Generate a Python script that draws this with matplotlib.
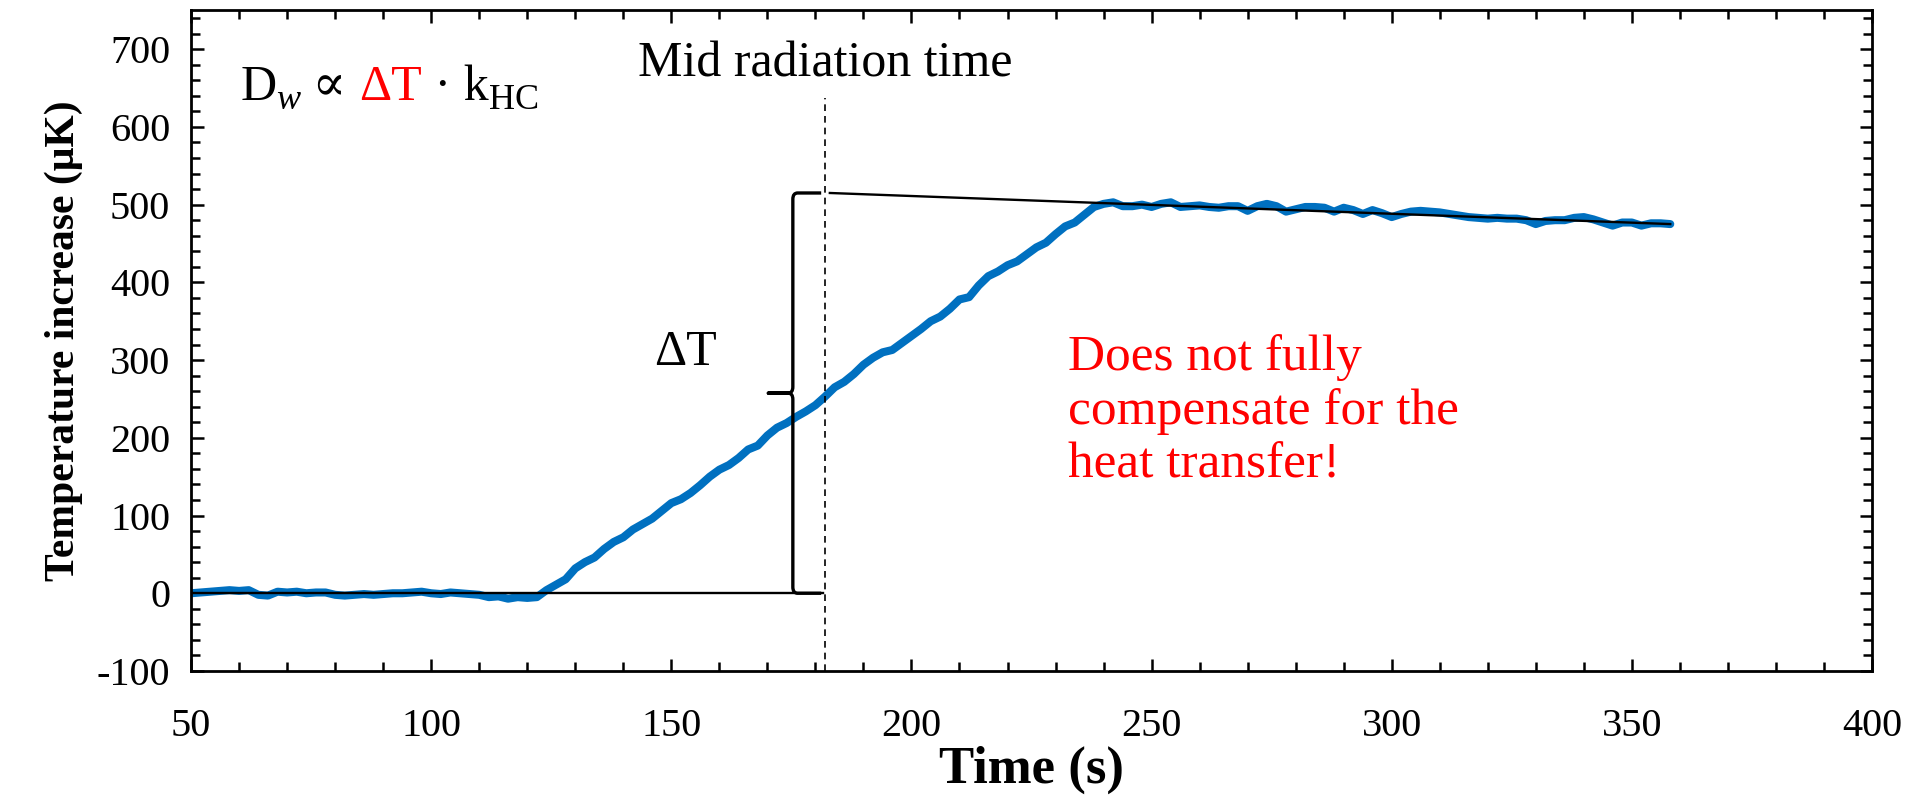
import matplotlib
matplotlib.use("Agg")
import matplotlib.pyplot as plt
import matplotlib.transforms as mtransforms
from matplotlib.path import Path
from matplotlib.patches import PathPatch
from matplotlib.ticker import MultipleLocator
import numpy as np

plt.rcParams["font.family"] = ["Liberation Serif", "DejaVu Serif"]
plt.rcParams["axes.unicode_minus"] = False

# Measured temperature rise, sampled every 2 s
time_s = np.arange(50, 360, 2)
temp_uK = [
    0, 1, 2, 3, 4, 3, 4, -2, -3, 2, 1, 2, 0, 1, 1, -2, -3, -2, -1, -2,
    -1, 0, 0, 1, 2, 0, -1, 1, 0, -1, -2, -5, -4, -7, -5, -6, -5,
    4, 11, 18, 32, 40, 46, 57, 66, 72, 82, 89, 96, 106, 116, 121, 129,
    139, 150, 159, 165, 174, 185, 190, 203, 213, 219, 227, 234, 242, 253,
    265, 272, 282, 294, 303, 310, 313, 322, 331, 340, 350, 356, 366, 378,
    381, 396, 408, 414, 422, 427, 436, 445, 451, 462, 472, 477, 487, 497,
    501, 503, 498, 498, 500, 497, 501, 503, 497, 498, 499, 497, 496, 498,
    498, 492, 498, 501, 498, 491, 494, 497, 497, 496, 491, 496, 493, 488,
    493, 489, 484, 488, 491, 492, 491, 490, 488, 486, 484, 483, 482, 483,
    482, 482, 480, 475, 479, 480, 480, 483, 484, 481, 477, 473, 477, 477,
    473, 476, 476, 475,
]

# Linear fit of the cooling part, extrapolated back to mid radiation time
fit_t = [183, 358]
fit_T = [515, 475]

mid_time = 182
baseline_t = [50, 181.6]
baseline_T = [0, 0]
delta_top = 515

blue = "#0070C0"

fig = plt.figure(figsize=(19.09, 7.95), dpi=100)
ax = fig.add_axes([0.1001, 0.156, 0.8805, 0.831])

ax.plot(time_s, temp_uK, color=blue, lw=5.8, solid_capstyle="round",
        solid_joinstyle="round", zorder=2)
ax.plot(baseline_t, baseline_T, color="black", lw=1.7, zorder=3)
ax.plot(fit_t, fit_T, color="black", lw=1.7, zorder=3)
ax.plot([mid_time, mid_time], [-100, 637], color="black", lw=1.2,
        dashes=(4, 3), zorder=4)

# Curly brace marking the temperature step
xs, xt, xe = 175.3, 170.2, 181.2
ymid = delta_top / 2
ry, rx = 8, 1.0
verts = [
    (xe, delta_top), (xs + rx, delta_top),
    (xs, delta_top), (xs, delta_top - ry),
    (xs, ymid + ry),
    (xs, ymid), (xs - rx, ymid),
    (xt, ymid),
    (xs - rx, ymid),
    (xs, ymid), (xs, ymid - ry),
    (xs, ry),
    (xs, 0), (xs + rx, 0),
    (xe, 0),
]
codes = [
    Path.MOVETO, Path.LINETO,
    Path.CURVE3, Path.CURVE3,
    Path.LINETO,
    Path.CURVE3, Path.CURVE3,
    Path.LINETO,
    Path.LINETO,
    Path.CURVE3, Path.CURVE3,
    Path.LINETO,
    Path.CURVE3, Path.CURVE3,
    Path.LINETO,
]
ax.add_patch(PathPatch(Path(verts, codes), fill=False, lw=2.4,
                       edgecolor="black", joinstyle="round", zorder=4))

ax.set_xlim(50, 400)
ax.set_ylim(-100, 750)
ax.xaxis.set_major_locator(MultipleLocator(50))
ax.xaxis.set_minor_locator(MultipleLocator(10))
ax.yaxis.set_minor_locator(MultipleLocator(20))
ax.set_yticks(np.arange(-100, 701, 100))
ax.tick_params(which="both", direction="in", top=True, right=True,
               width=1.8, labelsize=29)
ax.tick_params(which="major", length=9)
ax.tick_params(which="minor", length=6.5)
ax.tick_params(axis="x", which="major", pad=27)
ax.tick_params(axis="y", which="major", pad=15)
for sp in ax.spines.values():
    sp.set_linewidth(2)

ax.set_xlabel("Time (s)", fontsize=38, fontweight="bold", labelpad=0)
ax.set_ylabel("Temperature increase (μK)", fontsize=30, fontweight="bold",
              labelpad=10)

ax.text(mid_time, 681, "Mid radiation time", fontsize=36, ha="center",
        va="center")
ax.text(152.9, 310, "ΔT", fontsize=36, ha="center", va="center")
ax.text(232.5, 234, "Does not fully\ncompensate for the\nheat transfer!",
        fontsize=37, color="red", ha="left", va="center", linespacing=1.2)

# Formula written piece by piece so that ΔT can be coloured
renderer = fig.canvas.get_renderer()
parts = [
    ("D", "black", 36, "normal", 0),
    ("w", "black", 26, "italic", -9),
    (" ∝ ", "black", 36, "normal", 0),
    ("ΔT", "red", 36, "normal", 0),
    (" · k", "black", 36, "normal", 0),
    ("HC", "black", 26, "normal", -9),
]
dx = 0
for s, c, size, style, dy in parts:
    tr = mtransforms.offset_copy(ax.transData, fig=fig, x=dx, y=dy,
                                 units="dots")
    t = ax.text(60.2, 635, s, color=c, fontsize=size, fontstyle=style,
                ha="left", va="baseline", transform=tr)
    dx += t.get_window_extent(renderer).width

fig.savefig("out.png", dpi=100)
